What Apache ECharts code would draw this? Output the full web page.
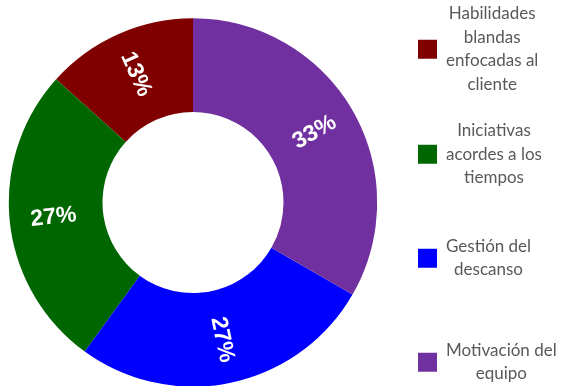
<!DOCTYPE html>
<html>
<head>
<meta charset="utf-8">
<script src="https://cdn.jsdelivr.net/npm/echarts@6/dist/echarts.min.js"></script>
<style>
  html, body { margin: 0; padding: 0; background: #fff; }
  #chart { width: 563px; height: 386px; }
</style>
</head>
<body>
<div id="chart"></div>
<script>
// Categories, their legend line breaks, counts and colours
const categories = [
  'Habilidades blandas enfocadas al cliente',
  'Iniciativas acordes a los tiempos',
  'Gestión del descanso',
  'Motivación del equipo'
];
const legendLines = [
  ['Habilidades', 'blandas', 'enfocadas al', 'cliente'],
  ['Iniciativas', 'acordes a los', 'tiempos'],
  ['Gestión del', 'descanso'],
  ['Motivación del', 'equipo']
];
const values = [4, 8, 8, 10];
const colors = ['#800000', '#006600', '#0000FF', '#7030A0'];
// Vertical centre of each legend entry
const legendCenters = [47.5, 152.5, 256.5, 360.5];

const chart = echarts.init(document.getElementById('chart'), null, { renderer: 'canvas' });

const legends = categories.map((name, i) => {
  const lines = legendLines[i];
  const lineH = 23.5;
  const blockH = lines.length * lineH;
  return {
    orient: 'vertical',
    left: 413,
    top: legendCenters[i] - blockH / 2,
    itemWidth: 19,
    itemHeight: 19,
    icon: 'rect',
    selectedMode: false,
    data: [name],
    formatter: () => lines.map(l => '{c|' + l + '}').join('\n'),
    textStyle: {
      padding: [0, 0, 0, 4],
      rich: {
        c: {
          align: 'center',
          fontFamily: 'Lato',
          fontSize: 17,
          lineHeight: lineH,
          color: '#595959'
        }
      }
    }
  };
});

chart.setOption({
  animation: false,
  color: colors,
  legend: legends,
  series: [{
    type: 'pie',
    center: [193, 202.5],
    radius: [90.5, 184.2],
    startAngle: 90,
    clockwise: false,
    silent: true,
    itemStyle: { borderWidth: 0 },
    label: {
      show: true,
      position: 'inside',
      rotate: 'radial',
      formatter: p => Math.round(p.percent) + '%',
      color: '#fff',
      fontFamily: 'Liberation Sans',
      fontWeight: 'bold',
      fontSize: 23
    },
    labelLine: { show: false },
    data: categories.map((name, i) => ({ name, value: values[i] }))
  }]
});
</script>
</body>
</html>
